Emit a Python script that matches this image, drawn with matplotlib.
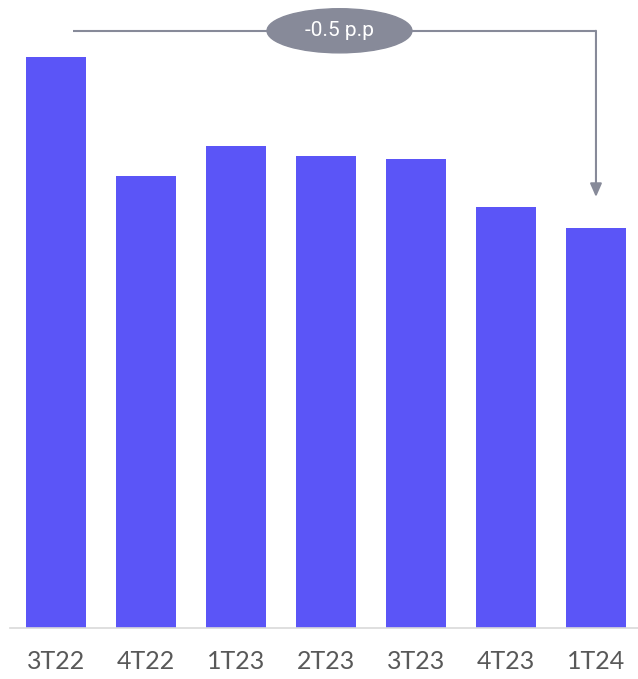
import matplotlib
matplotlib.use('Agg')
import matplotlib.pyplot as plt
from matplotlib.patches import Ellipse

# quarterly rates (p.p.)
quarters = ['3T22', '4T22', '1T23', '2T23', '3T23', '4T23', '1T24']
values = [1.67, 1.32, 1.41, 1.38, 1.37, 1.23, 1.17]

bar_color = '#5B55F7'
note_color = '#878A99'

fig = plt.figure(figsize=(6.38, 6.79), dpi=100)
ax = fig.add_axes([10 / 638, 51 / 679, 628 / 638, 628 / 679])

x = range(len(quarters))
ax.bar(x, values, width=0.667, color=bar_color)

ax.set_xlim(-0.511, 6.467)
ax.set_ylim(0, 1.836)
ax.set_xticks(list(x))
ax.set_xticklabels(quarters, family=['Lato', 'DejaVu Sans'], fontsize=18, color='#595959')
ax.tick_params(axis='x', length=0, pad=16)
ax.set_yticks([])
for side in ['top', 'right', 'left']:
    ax.spines[side].set_visible(False)
ax.spines['bottom'].set_color('#D9D9D9')
ax.spines['bottom'].set_linewidth(1.2)

# bracket showing change between first and last quarter
delta = values[-1] - values[0]
y_line = 1.746
x_start, x_end = 0.19, len(values) - 1
ax.plot([x_start, x_end], [y_line, y_line], color=note_color, lw=1.5, solid_capstyle='butt')
ax.annotate('', xy=(x_end, values[-1] + 0.09), xytext=(x_end, y_line),
            arrowprops=dict(arrowstyle='-|>,head_length=0.8,head_width=0.35',
                            color=note_color, lw=1.5, shrinkA=0, shrinkB=0))
ax.add_patch(Ellipse((3.15, y_line), 1.61, 0.129, color=note_color, zorder=3))
ax.text(3.15, y_line, f'{delta:.1f} p.p', ha='center', va='center', color='white',
        fontsize=15, family=['Roboto', 'DejaVu Sans'], zorder=4)

fig.savefig('out.png', dpi=100)
